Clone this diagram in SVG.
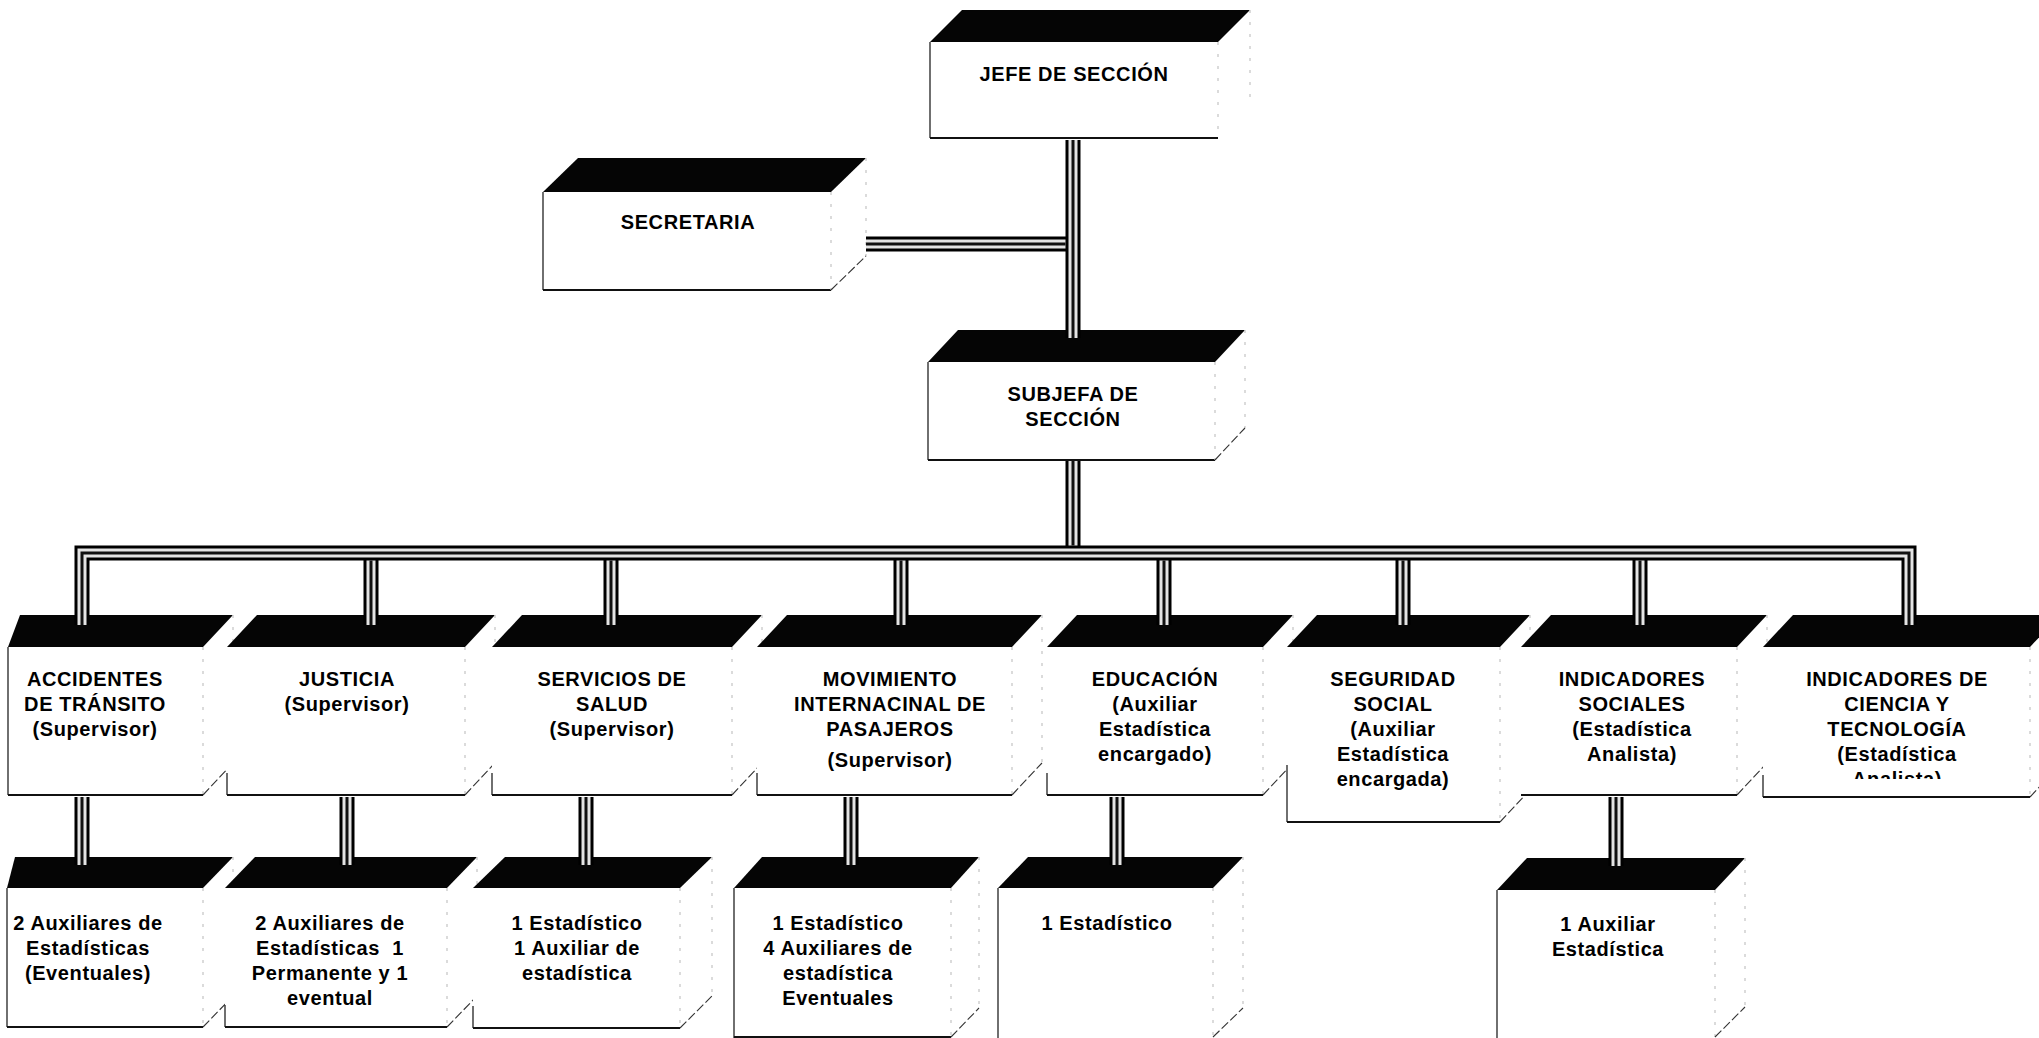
<svg xmlns="http://www.w3.org/2000/svg" xmlns:xlink="http://www.w3.org/1999/xlink" width="2039" height="1038" viewBox="0 0 2039 1038">
<style>
.top{fill:#050505}
.front{fill:#fff}
.edge{stroke:#222;stroke-width:1.3;fill:none}
.bottom{stroke:#111;stroke-width:1.8;fill:none}
.dot{stroke:#c8c8c8;stroke-width:1.3;stroke-dasharray:3 9;fill:none}
.diag{stroke:#333;stroke-width:1.1;stroke-dasharray:9 3;fill:none}
.t{font-family:"Liberation Sans",Arial,sans-serif;font-weight:bold;font-size:20px;letter-spacing:0.6px;text-anchor:middle;fill:#000}
.w1{stroke:#000;stroke-width:15;fill:none;stroke-linejoin:miter}
.w2{stroke:#e4e4e4;stroke-width:9;fill:none;stroke-linejoin:miter}
.w3{stroke:#111;stroke-width:3;fill:none;stroke-linejoin:miter}
</style>
<defs>
<path id="wires" d="M1073,140 V338 M866,244 H1065.5 M1073,461 V545.5 M82,625 V553 H1909 V625 M371,560.5 V625 M611,560.5 V625 M901,560.5 V625 M1164,560.5 V625 M1403,560.5 V625 M1640,560.5 V625 M82,797 V865 M347,797 V865 M586,797 V865 M851,797 V865 M1117,797 V865 M1616,797 V866"/>
<clipPath id="clip8"><rect x="1700" y="600" width="339" height="179"/></clipPath>
</defs>
<rect width="2039" height="1038" fill="#fff"/>

<g id="jefe">
<polygon class="top" points="930,42 962,10 1250,10 1218,42"/>
<rect class="front" x="930" y="42" width="288" height="96"/>
<line class="edge" x1="930" y1="42" x2="930" y2="138"/>
<line class="bottom" x1="930" y1="138" x2="1218" y2="138"/>
<line class="dot" x1="1218" y1="42" x2="1218" y2="138"/>
<line class="dot" x1="1250" y1="10" x2="1250" y2="106"/>
<text class="t" x="1074" y="81">JEFE DE SECCIÓN</text>
</g>

<g id="secretaria">
<polygon class="top" points="543,192 578,158 866,158 831,192"/>
<rect class="front" x="543" y="192" width="288" height="98"/>
<line class="edge" x1="543" y1="192" x2="543" y2="290"/>
<line class="bottom" x1="543" y1="290" x2="831" y2="290"/>
<line class="dot" x1="831" y1="192" x2="831" y2="290"/>
<line class="dot" x1="866" y1="158" x2="866" y2="256"/>
<line class="diag" x1="831" y1="290" x2="866" y2="256"/>
<text class="t" x="688" y="229">SECRETARIA</text>
</g>

<g id="subjefa">
<polygon class="top" points="928,362 958,330 1245,330 1215,362"/>
<rect class="front" x="928" y="362" width="287" height="98"/>
<line class="edge" x1="928" y1="362" x2="928" y2="460"/>
<line class="bottom" x1="928" y1="460" x2="1215" y2="460"/>
<line class="dot" x1="1215" y1="362" x2="1215" y2="460"/>
<line class="dot" x1="1245" y1="330" x2="1245" y2="428"/>
<line class="diag" x1="1215" y1="460" x2="1245" y2="428"/>
<text class="t" x="1073" y="401">SUBJEFA DE</text>
<text class="t" x="1073" y="426">SECCIÓN</text>
</g>

<g id="accidentes">
<polygon class="top" points="8,647 20,615 233,615 203,647"/>
<rect class="front" x="8" y="647" width="195" height="148"/>
<line class="edge" x1="8" y1="647" x2="8" y2="795"/>
<line class="bottom" x1="8" y1="795" x2="203" y2="795"/>
<line class="dot" x1="203" y1="647" x2="203" y2="795"/>
<line class="dot" x1="233" y1="615" x2="233" y2="763"/>
<line class="diag" x1="203" y1="795" x2="233" y2="763"/>
<text class="t" x="95" y="686">ACCIDENTES</text>
<text class="t" x="95" y="711">DE TRÁNSITO</text>
<text class="t" x="95" y="736">(Supervisor)</text>
</g>

<g id="justicia">
<polygon class="top" points="227,647 257,615 495,615 465,647"/>
<rect class="front" x="227" y="647" width="238" height="148"/>
<line class="edge" x1="227" y1="773" x2="227" y2="795"/>
<line class="bottom" x1="227" y1="795" x2="465" y2="795"/>
<line class="dot" x1="465" y1="647" x2="465" y2="795"/>
<line class="dot" x1="495" y1="615" x2="495" y2="763"/>
<line class="diag" x1="465" y1="795" x2="495" y2="763"/>
<text class="t" x="347" y="686">JUSTICIA</text>
<text class="t" x="347" y="711">(Supervisor)</text>
</g>

<g id="salud">
<polygon class="top" points="492,647 522,615 762,615 732,647"/>
<rect class="front" x="492" y="647" width="240" height="148"/>
<line class="edge" x1="492" y1="773" x2="492" y2="795"/>
<line class="bottom" x1="492" y1="795" x2="732" y2="795"/>
<line class="dot" x1="732" y1="647" x2="732" y2="795"/>
<line class="dot" x1="762" y1="615" x2="762" y2="763"/>
<line class="diag" x1="732" y1="795" x2="762" y2="763"/>
<text class="t" x="612" y="686">SERVICIOS DE</text>
<text class="t" x="612" y="711">SALUD</text>
<text class="t" x="612" y="736">(Supervisor)</text>
</g>

<g id="movimiento">
<polygon class="top" points="757,647 787,615 1042,615 1012,647"/>
<rect class="front" x="757" y="647" width="255" height="148"/>
<line class="edge" x1="757" y1="773" x2="757" y2="795"/>
<line class="bottom" x1="757" y1="795" x2="1012" y2="795"/>
<line class="dot" x1="1012" y1="647" x2="1012" y2="795"/>
<line class="dot" x1="1042" y1="615" x2="1042" y2="763"/>
<line class="diag" x1="1012" y1="795" x2="1042" y2="763"/>
<text class="t" x="890" y="686">MOVIMIENTO</text>
<text class="t" x="890" y="711">INTERNACINAL DE</text>
<text class="t" x="890" y="736">PASAJEROS</text>
<text class="t" x="890" y="767">(Supervisor)</text>
</g>

<g id="educacion">
<polygon class="top" points="1047,647 1077,615 1293,615 1263,647"/>
<rect class="front" x="1047" y="647" width="216" height="148"/>
<line class="edge" x1="1047" y1="773" x2="1047" y2="795"/>
<line class="bottom" x1="1047" y1="795" x2="1263" y2="795"/>
<line class="dot" x1="1263" y1="647" x2="1263" y2="795"/>
<line class="dot" x1="1293" y1="615" x2="1293" y2="763"/>
<line class="diag" x1="1263" y1="795" x2="1293" y2="763"/>
<text class="t" x="1155" y="686">EDUCACIÓN</text>
<text class="t" x="1155" y="711">(Auxiliar</text>
<text class="t" x="1155" y="736">Estadística</text>
<text class="t" x="1155" y="761">encargado)</text>
</g>

<g id="seguridad">
<polygon class="top" points="1287,647 1317,615 1530,615 1500,647"/>
<rect class="front" x="1287" y="647" width="213" height="175"/>
<line class="edge" x1="1287" y1="765" x2="1287" y2="822"/>
<line class="bottom" x1="1287" y1="822" x2="1500" y2="822"/>
<line class="dot" x1="1500" y1="647" x2="1500" y2="822"/>
<line class="dot" x1="1530" y1="615" x2="1530" y2="790"/>
<line class="diag" x1="1500" y1="822" x2="1530" y2="790"/>
<text class="t" x="1393" y="686">SEGURIDAD</text>
<text class="t" x="1393" y="711">SOCIAL</text>
<text class="t" x="1393" y="736">(Auxiliar</text>
<text class="t" x="1393" y="761">Estadística</text>
<text class="t" x="1393" y="786">encargada)</text>
</g>

<g id="indicadores-sociales">
<polygon class="top" points="1521,647 1551,615 1767,615 1737,647"/>
<rect class="front" x="1521" y="647" width="216" height="148"/>
<line class="bottom" x1="1521" y1="795" x2="1737" y2="795"/>
<line class="dot" x1="1737" y1="647" x2="1737" y2="795"/>
<line class="dot" x1="1767" y1="615" x2="1767" y2="763"/>
<line class="diag" x1="1737" y1="795" x2="1767" y2="763"/>
<text class="t" x="1632" y="686">INDICADORES</text>
<text class="t" x="1632" y="711">SOCIALES</text>
<text class="t" x="1632" y="736">(Estadística</text>
<text class="t" x="1632" y="761">Analista)</text>
</g>

<g id="indicadores-ciencia">
<polygon class="top" points="1763,647 1793,615 2060,615 2030,647"/>
<rect class="front" x="1763" y="647" width="267" height="150"/>
<line class="edge" x1="1763" y1="775" x2="1763" y2="797"/>
<line class="bottom" x1="1763" y1="797" x2="2030" y2="797"/>
<line class="dot" x1="2030" y1="647" x2="2030" y2="797"/>
<line class="diag" x1="2030" y1="797" x2="2060" y2="765"/>
<g clip-path="url(#clip8)">
<text class="t" x="1897" y="686">INDICADORES DE</text>
<text class="t" x="1897" y="711">CIENCIA Y</text>
<text class="t" x="1897" y="736">TECNOLOGÍA</text>
<text class="t" x="1897" y="761">(Estadística</text>
<text class="t" x="1897" y="786">Analista)</text>
</g>
</g>

<g id="aux-accidentes">
<polygon class="top" points="7,888 15,857 233,857 203,888"/>
<rect class="front" x="7" y="888" width="196" height="139"/>
<line class="edge" x1="7" y1="888" x2="7" y2="1027"/>
<line class="bottom" x1="7" y1="1027" x2="203" y2="1027"/>
<line class="dot" x1="203" y1="888" x2="203" y2="1027"/>
<line class="dot" x1="233" y1="857" x2="233" y2="996"/>
<line class="diag" x1="203" y1="1027" x2="233" y2="996"/>
<text class="t" x="88" y="930">2 Auxiliares de</text>
<text class="t" x="88" y="955">Estadísticas</text>
<text class="t" x="88" y="980">(Eventuales)</text>
</g>

<g id="aux-justicia">
<polygon class="top" points="225,888 255,857 477,857 447,888"/>
<rect class="front" x="225" y="888" width="222" height="139"/>
<line class="edge" x1="225" y1="1005" x2="225" y2="1027"/>
<line class="bottom" x1="225" y1="1027" x2="447" y2="1027"/>
<line class="dot" x1="447" y1="888" x2="447" y2="1027"/>
<line class="dot" x1="477" y1="857" x2="477" y2="996"/>
<line class="diag" x1="447" y1="1027" x2="477" y2="996"/>
<text class="t" x="330" y="930">2 Auxiliares de</text>
<text class="t" x="330" y="955" xml:space="preserve">Estadísticas  1</text>
<text class="t" x="330" y="980">Permanente y 1</text>
<text class="t" x="330" y="1005">eventual</text>
</g>

<g id="aux-salud">
<polygon class="top" points="473,888 505,857 712,857 680,888"/>
<rect class="front" x="473" y="888" width="207" height="140"/>
<line class="edge" x1="473" y1="1006" x2="473" y2="1028"/>
<line class="bottom" x1="473" y1="1028" x2="680" y2="1028"/>
<line class="dot" x1="680" y1="888" x2="680" y2="1028"/>
<line class="dot" x1="712" y1="857" x2="712" y2="996"/>
<line class="diag" x1="680" y1="1028" x2="712" y2="996"/>
<text class="t" x="577" y="930">1 Estadístico</text>
<text class="t" x="577" y="955">1 Auxiliar de</text>
<text class="t" x="577" y="980">estadística</text>
</g>

<g id="aux-movimiento">
<polygon class="top" points="734,888 762,857 979,857 951,888"/>
<rect class="front" x="734" y="888" width="217" height="150"/>
<line class="edge" x1="734" y1="888" x2="734" y2="1038"/>
<line class="bottom" x1="734" y1="1037" x2="951" y2="1037"/>
<line class="dot" x1="951" y1="888" x2="951" y2="1037"/>
<line class="dot" x1="979" y1="857" x2="979" y2="1008"/>
<line class="diag" x1="951" y1="1037" x2="979" y2="1008"/>
<text class="t" x="838" y="930">1 Estadístico</text>
<text class="t" x="838" y="955">4 Auxiliares de</text>
<text class="t" x="838" y="980">estadística</text>
<text class="t" x="838" y="1005">Eventuales</text>
</g>

<g id="aux-educacion">
<polygon class="top" points="998,888 1028,857 1243,857 1213,888"/>
<rect class="front" x="998" y="888" width="215" height="150"/>
<line class="edge" x1="998" y1="888" x2="998" y2="1038"/>
<line class="dot" x1="1213" y1="888" x2="1213" y2="1037"/>
<line class="dot" x1="1243" y1="857" x2="1243" y2="1008"/>
<line class="diag" x1="1213" y1="1037" x2="1243" y2="1008"/>
<text class="t" x="1107" y="930">1 Estadístico</text>
</g>

<g id="aux-indicadores">
<polygon class="top" points="1497,890 1527,858 1745,858 1715,890"/>
<rect class="front" x="1497" y="890" width="218" height="148"/>
<line class="edge" x1="1497" y1="890" x2="1497" y2="1038"/>
<line class="dot" x1="1715" y1="890" x2="1715" y2="1037"/>
<line class="dot" x1="1745" y1="858" x2="1745" y2="1007"/>
<line class="diag" x1="1715" y1="1037" x2="1745" y2="1007"/>
<text class="t" x="1608" y="931">1 Auxiliar</text>
<text class="t" x="1608" y="956">Estadística</text>
</g>

<g id="connectors">
<use xlink:href="#wires" class="w1"/>
<use xlink:href="#wires" class="w2"/>
<use xlink:href="#wires" class="w3"/>
</g>
</svg>
